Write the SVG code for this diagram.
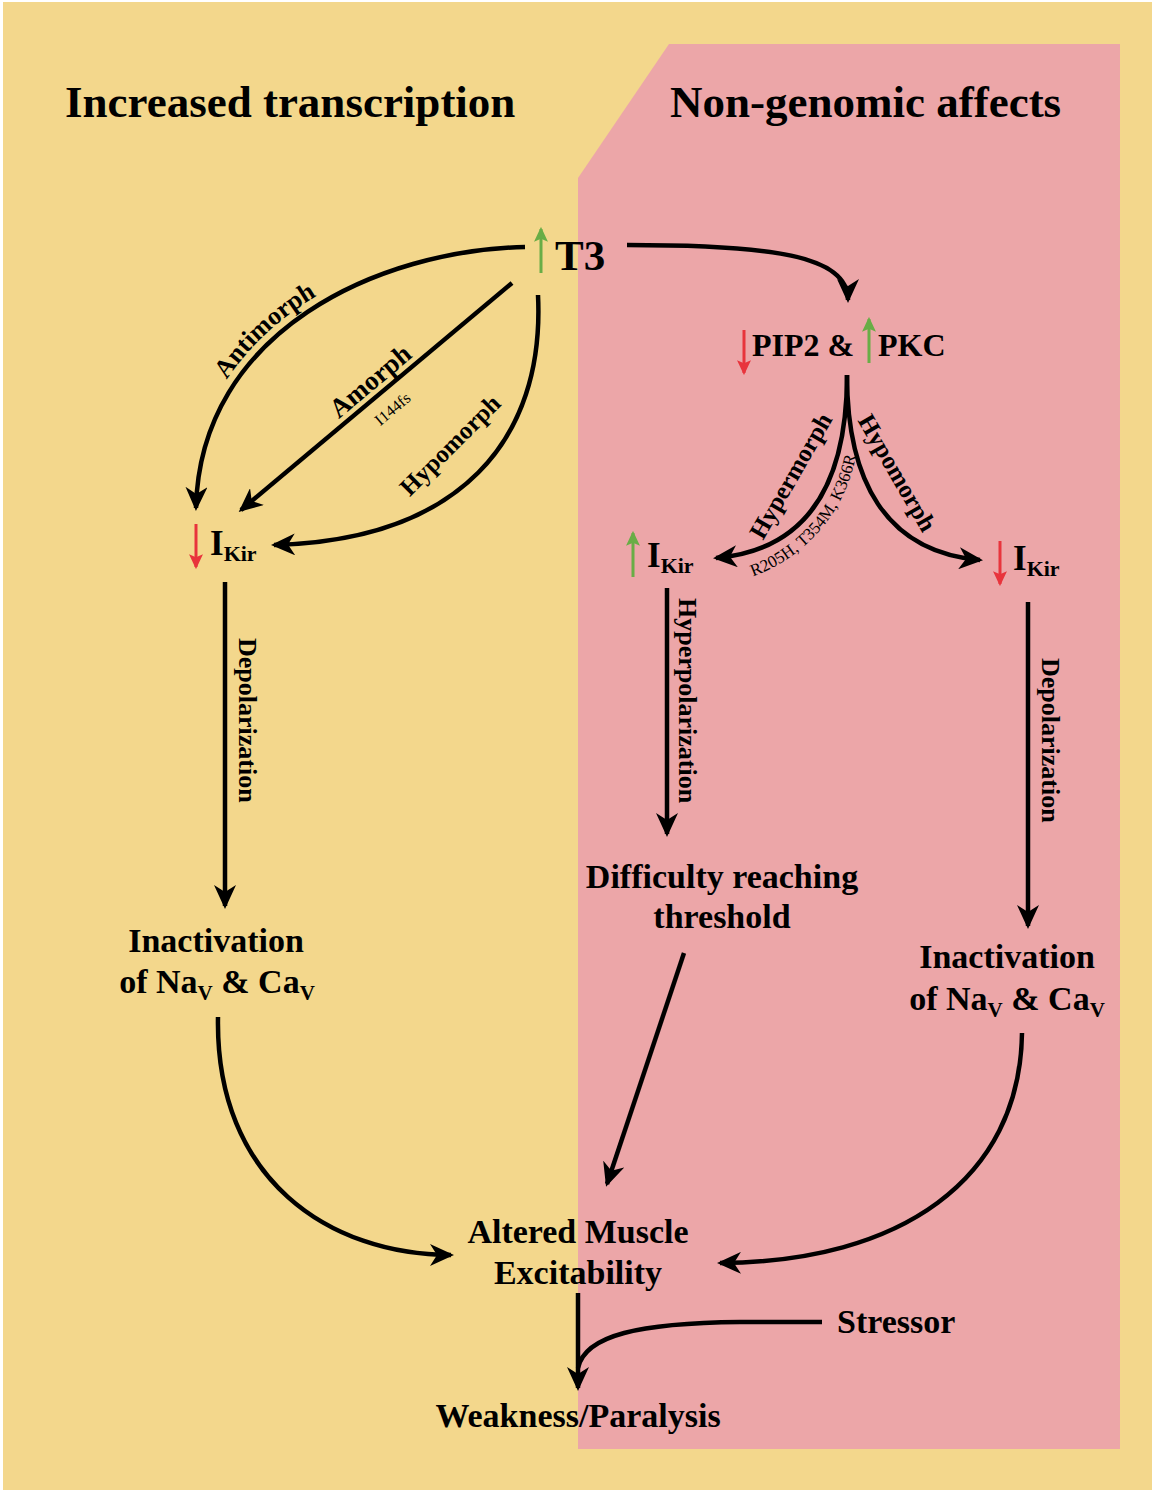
<svg xmlns="http://www.w3.org/2000/svg" width="1152" height="1490" viewBox="0 0 1152 1490">
<style>
.t{font-family:"Liberation Serif","Times New Roman",serif;font-weight:bold;fill:#000}
.n{font-family:"Liberation Serif","Times New Roman",serif;font-weight:normal;fill:#000}
.c{fill:none;stroke:#000;stroke-width:4.5}
.r{fill:none;stroke:#E8343C;stroke-width:3}
.g{fill:none;stroke:#69AD46;stroke-width:3}
</style>
<defs>
<marker id="ah" viewBox="0 0 24 22" markerWidth="24" markerHeight="22" refX="21" refY="11" orient="auto" markerUnits="userSpaceOnUse">
<path d="M24,11 L0,0 L7,11 L0,22 Z" fill="#000"/>
</marker>
<marker id="ahR" viewBox="0 0 14 14" markerWidth="15" markerHeight="15" refX="12" refY="7" orient="auto" markerUnits="userSpaceOnUse">
<path d="M14,7 L0,0.5 L3,7 L0,13.5 Z" fill="#E8343C"/>
</marker>
<marker id="ahG" viewBox="0 0 14 14" markerWidth="15" markerHeight="15" refX="12" refY="7" orient="auto" markerUnits="userSpaceOnUse">
<path d="M14,7 L0,0.5 L3,7 L0,13.5 Z" fill="#69AD46"/>
</marker>
<path id="pAnti" d="M187,508 C192,324 378,240 525,238"/>
<path id="pR205" d="M738,581 C790,568 850,522 858,440"/>
</defs>
<rect width="1152" height="1490" fill="#fff"/>
<rect x="3" y="2" width="1149" height="1488" fill="#F3D78C"/>
<polygon points="578,178 669,44 1120,44 1120,1449 578,1449" fill="#ECA6A8"/>

<g id="titles">
<text class="t" x="65" y="117" font-size="45">Increased transcription</text>
<text class="t" x="670" y="117" font-size="45">Non-genomic affects</text>
</g>

<g id="connectors">
<path class="c" d="M627,245 C770,245 848,255 848,300" marker-end="url(#ah)"/>
<path class="c" d="M525,247 C380,250 200,330 196,508" marker-end="url(#ah)"/>
<path class="c" d="M512,283 L241,510" marker-end="url(#ah)"/>
<path class="c" d="M538,295 C545,440 460,540 274,545" marker-end="url(#ah)"/>
<path class="c" d="M847,375 C847,480 810,550 716,558" marker-end="url(#ah)"/>
<path class="c" d="M847,375 C847,480 885,552 980,560" marker-end="url(#ah)"/>
<path class="c" d="M225,582 L225,906" marker-end="url(#ah)"/>
<path class="c" d="M667,588 L667,834" marker-end="url(#ah)"/>
<path class="c" d="M1028,602 L1028,926" marker-end="url(#ah)"/>
<path class="c" d="M684,953 L607,1184" marker-end="url(#ah)"/>
<path class="c" d="M218,1017 C215,1180 330,1255 451,1255" marker-end="url(#ah)"/>
<path class="c" d="M1022,1033 C1020,1180 900,1262 720,1263" marker-end="url(#ah)"/>
<path class="c" d="M578,1293 L578,1388" marker-end="url(#ah)"/>
<path class="c" d="M822,1322 L740,1322 C640,1323 585,1335 578,1368"/>
</g>

<g id="edge-labels">
<text class="t" font-size="26" text-anchor="middle"><textPath href="#pAnti" startOffset="198">Antimorph</textPath></text>
<text class="t" font-size="27" text-anchor="middle" transform="translate(376,388) rotate(-40)">Amorph</text>
<text class="n" font-size="16" text-anchor="middle" transform="translate(396,413) rotate(-40)">I144fs</text>
<text class="t" font-size="25" text-anchor="middle" transform="translate(456,451) rotate(-45)">Hypomorph</text>
<text class="t" font-size="25" text-anchor="middle" transform="translate(798,480) rotate(-60)">Hypermorph</text>
<text class="t" font-size="25" text-anchor="middle" transform="translate(890,477) rotate(60)">Hypomorph</text>
<text class="n" font-size="17" text-anchor="middle"><textPath href="#pR205" startOffset="50%">R205H, T354M, K366R</textPath></text>
<text class="t" font-size="26" transform="translate(239,638) rotate(90)">Depolarization</text>
<text class="t" font-size="26" transform="translate(679,598) rotate(90)">Hyperpolarization</text>
<text class="t" font-size="26" transform="translate(1042,658) rotate(90)">Depolarization</text>
</g>

<g id="node-T3">
<path class="g" d="M541,273 L541,229" marker-end="url(#ahG)"/>
<text class="t" x="555" y="270" font-size="43">T3</text>
</g>

<g id="node-PIP2-PKC">
<path class="r" d="M744,330 L744,373" marker-end="url(#ahR)"/>
<text class="t" x="752" y="356" font-size="32">PIP2 &amp;</text>
<path class="g" d="M869,363 L869,319" marker-end="url(#ahG)"/>
<text class="t" x="878" y="356" font-size="32">PKC</text>
</g>

<g id="node-IKir-left">
<path class="r" d="M196,524 L196,567" marker-end="url(#ahR)"/>
<text class="t" x="210" y="555" font-size="35">I<tspan font-size="22" dy="6">Kir</tspan></text>
</g>

<g id="node-IKir-mid">
<path class="g" d="M633,577 L633,533" marker-end="url(#ahG)"/>
<text class="t" x="647" y="567" font-size="35">I<tspan font-size="22" dy="6">Kir</tspan></text>
</g>

<g id="node-IKir-right">
<path class="r" d="M1000,541 L1000,584" marker-end="url(#ahR)"/>
<text class="t" x="1013" y="570" font-size="35">I<tspan font-size="22" dy="6">Kir</tspan></text>
</g>

<g id="node-inact-left">
<text class="t" x="216" y="952" font-size="34" text-anchor="middle">Inactivation</text>
<text class="t" x="217" y="993" font-size="34" text-anchor="middle">of Na<tspan font-size="21" dy="7">V</tspan><tspan dy="-7"> &amp; Ca</tspan><tspan font-size="21" dy="7">V</tspan></text>
</g>

<g id="node-difficulty">
<text class="t" x="722" y="888" font-size="34" text-anchor="middle">Difficulty reaching</text>
<text class="t" x="722" y="928" font-size="34" text-anchor="middle">threshold</text>
</g>

<g id="node-inact-right">
<text class="t" x="1007" y="968" font-size="34" text-anchor="middle">Inactivation</text>
<text class="t" x="1007" y="1010" font-size="34" text-anchor="middle">of Na<tspan font-size="21" dy="7">V</tspan><tspan dy="-7"> &amp; Ca</tspan><tspan font-size="21" dy="7">V</tspan></text>
</g>

<g id="node-altered">
<text class="t" x="578" y="1243" font-size="34" text-anchor="middle">Altered Muscle</text>
<text class="t" x="578" y="1284" font-size="34" text-anchor="middle">Excitability</text>
</g>

<g id="node-stressor">
<text class="t" x="837" y="1333" font-size="34">Stressor</text>
</g>

<g id="node-weakness">
<text class="t" x="578" y="1427" font-size="34" text-anchor="middle">Weakness/Paralysis</text>
</g>
</svg>
